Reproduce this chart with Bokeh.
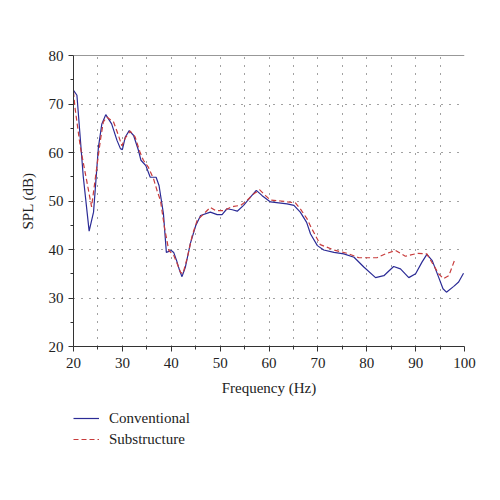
from bokeh.plotting import figure
from bokeh.models import Range1d, Legend, LegendItem, FixedTicker, Span
from bokeh.layouts import column
from bokeh.embed import file_html
from bokeh.resources import INLINE

# ---- data ----
conv_hz = [20.0, 20.7, 22.0, 23.2, 24.1, 25.1, 25.8, 26.6, 27.8, 28.9, 29.6, 30.0,
           30.6, 31.4, 32.3, 33.3, 33.8, 34.8, 35.7, 36.9, 37.5, 38.4, 39.0, 40.0,
           40.5, 41.1, 41.7, 42.2, 42.9, 43.9, 45.0, 46.0, 48.0, 49.4, 50.4, 51.4,
           52.5, 53.5, 54.8, 56.2, 57.4, 58.6, 60.3, 62.0, 63.7, 65.1, 66.4, 67.7,
           68.5, 69.9, 71.2, 73.3, 75.3, 77.4, 79.4, 81.8, 83.5, 85.5, 86.9, 88.6,
           90.0, 91.3, 92.3, 93.4, 94.7, 95.6, 96.3, 97.8, 98.8, 99.8]
conv_db = [72.8, 71.8, 55.0, 43.8, 47.7, 61.1, 65.9, 67.8, 65.9, 62.5, 60.8, 60.6,
           63.2, 64.5, 63.5, 60.4, 58.4, 57.3, 54.9, 54.9, 53.2, 47.4, 39.4, 39.8,
           39.4, 37.7, 35.7, 34.4, 36.4, 41.2, 44.9, 47.0, 47.7, 47.2, 47.2, 48.4,
           48.2, 47.9, 49.1, 50.8, 52.2, 51.1, 49.8, 49.6, 49.4, 49.1, 47.7, 45.6,
           43.2, 40.8, 39.9, 39.4, 39.1, 38.4, 36.4, 34.2, 34.6, 36.5, 36.0, 34.2,
           35.0, 37.4, 39.0, 37.7, 34.3, 31.9, 31.2, 32.4, 33.3, 35.1]

sub_hz = [20.0, 20.3, 21.4, 22.7, 23.7, 24.4, 25.5, 26.1, 26.8, 28.2, 29.2, 29.9,
          30.6, 31.6, 32.6, 33.6, 34.3, 35.3, 36.4, 37.2, 37.8, 38.6, 39.5, 40.5,
          41.2, 41.9, 42.4, 43.3, 44.3, 45.3, 46.7, 48.0, 49.1, 50.8, 52.1, 52.8,
          54.2, 55.5, 56.9, 58.1, 59.3, 60.3, 62.4, 65.4, 66.4, 67.8, 68.6, 70.5,
          73.3, 76.0, 78.4, 82.1, 83.8, 85.9, 87.9, 90.3, 92.3, 93.7, 94.7, 95.7,
          96.8, 98.0]
sub_db = [72.5, 69.3, 61.1, 54.2, 48.8, 54.2, 62.5, 66.3, 67.3, 66.3, 63.5, 61.4,
          63.0, 64.4, 63.2, 60.1, 58.4, 57.0, 54.5, 51.8, 50.1, 44.6, 39.8, 38.8,
          37.1, 35.3, 35.0, 38.4, 42.9, 46.0, 47.4, 48.7, 48.0, 48.0, 48.7, 48.9,
          49.1, 50.1, 51.5, 52.3, 51.1, 50.2, 50.0, 49.6, 48.4, 46.3, 44.6, 41.0,
          39.9, 39.2, 38.3, 38.3, 39.1, 39.8, 38.6, 39.2, 39.1, 36.7, 35.0, 34.0,
          34.6, 37.9]

series_names = ["Conventional", "Substructure"]
x_ticks = [20, 30, 40, 50, 60, 70, 80, 90, 100]
y_ticks = [20, 30, 40, 50, 60, 70, 80]
x_grid = [25, 30, 35, 40, 45, 50, 55, 60, 65, 70, 75, 80, 85, 90, 95]
y_grid = [30, 40, 50, 60, 70]

FONT = "Liberation Serif"
FS = "15px"
BLUE = "#2b2b96"
RED = "#c83c3c"
DASH = "5 3"

p = figure(width=500, height=400, output_backend="svg", toolbar_location=None,
           x_range=Range1d(20, 100), y_range=Range1d(20, 80),
           min_border_left=73, min_border_right=36, min_border_top=55,
           min_border_bottom=54)
p.outline_line_color = None
p.background_fill_color = "white"
p.border_fill_color = "white"

p.line(conv_hz, conv_db, line_color=BLUE, line_width=1.2)
p.line(sub_hz, sub_db, line_color=RED, line_width=1.2, line_dash=DASH)

for ax in (p.xaxis[0], p.yaxis[0]):
    ax.axis_line_color = "#333333"
    ax.major_tick_line_color = "#333333"
    ax.minor_tick_line_color = "#333333"
    ax.major_tick_out = 5
    ax.major_tick_in = 0
    ax.minor_tick_out = 3
    ax.minor_tick_in = 0
    ax.major_label_text_font = FONT
    ax.major_label_text_font_size = FS
    ax.major_label_text_color = "#222222"
    ax.axis_label_text_font = FONT
    ax.axis_label_text_font_size = FS
    ax.axis_label_text_font_style = "normal"
    ax.axis_label_text_color = "#222222"

p.xaxis[0].ticker = FixedTicker(ticks=x_ticks, minor_ticks=x_grid)
p.yaxis[0].ticker = FixedTicker(ticks=y_ticks, minor_ticks=[25, 35, 45, 55, 65, 75])
p.xaxis[0].axis_label = "Frequency (Hz)"
p.yaxis[0].axis_label = "SPL (dB)"
p.xaxis[0].major_label_standoff = 6
p.yaxis[0].major_label_standoff = 5
p.xaxis[0].axis_label_standoff = 9
p.yaxis[0].axis_label_standoff = 10

p.xgrid[0].ticker = FixedTicker(ticks=x_grid)
p.ygrid[0].ticker = FixedTicker(ticks=y_grid)
for g in (p.xgrid[0], p.ygrid[0]):
    g.grid_line_color = "#444444"
    g.grid_line_dash = "1 7"
    g.grid_line_width = 1

p.add_layout(Span(location=80, dimension="width", line_color="#333333", line_width=1))

# legend panel below the chart
lg = figure(width=500, height=100, output_backend="svg", toolbar_location=None,
            x_axis_type=None, y_axis_type=None,
            x_range=Range1d(0, 1), y_range=Range1d(0, 1),
            min_border_left=73, min_border_right=0, min_border_top=8,
            min_border_bottom=0)
lg.outline_line_color = None
lg.xgrid.visible = False
lg.ygrid.visible = False
l1 = lg.line(x=[-5, -4], y=[-5, -4], line_color=BLUE, line_width=1.2)
l2 = lg.line(x=[-5, -4], y=[-5, -4], line_color=RED, line_width=1.2, line_dash=DASH)

legend = Legend(items=[LegendItem(label=series_names[0], renderers=[l1]),
                       LegendItem(label=series_names[1], renderers=[l2])],
                location="top_left", orientation="vertical")
legend.border_line_color = None
legend.background_fill_alpha = 0
legend.label_text_font = FONT
legend.label_text_font_size = FS
legend.label_text_color = "#222222"
legend.glyph_width = 26
legend.label_standoff = 10
legend.spacing = 1
legend.padding = 0
legend.margin = 0
lg.add_layout(legend, "center")

layout = column(p, lg, spacing=0)
open("out.html", "w").write(file_html(layout, INLINE))
